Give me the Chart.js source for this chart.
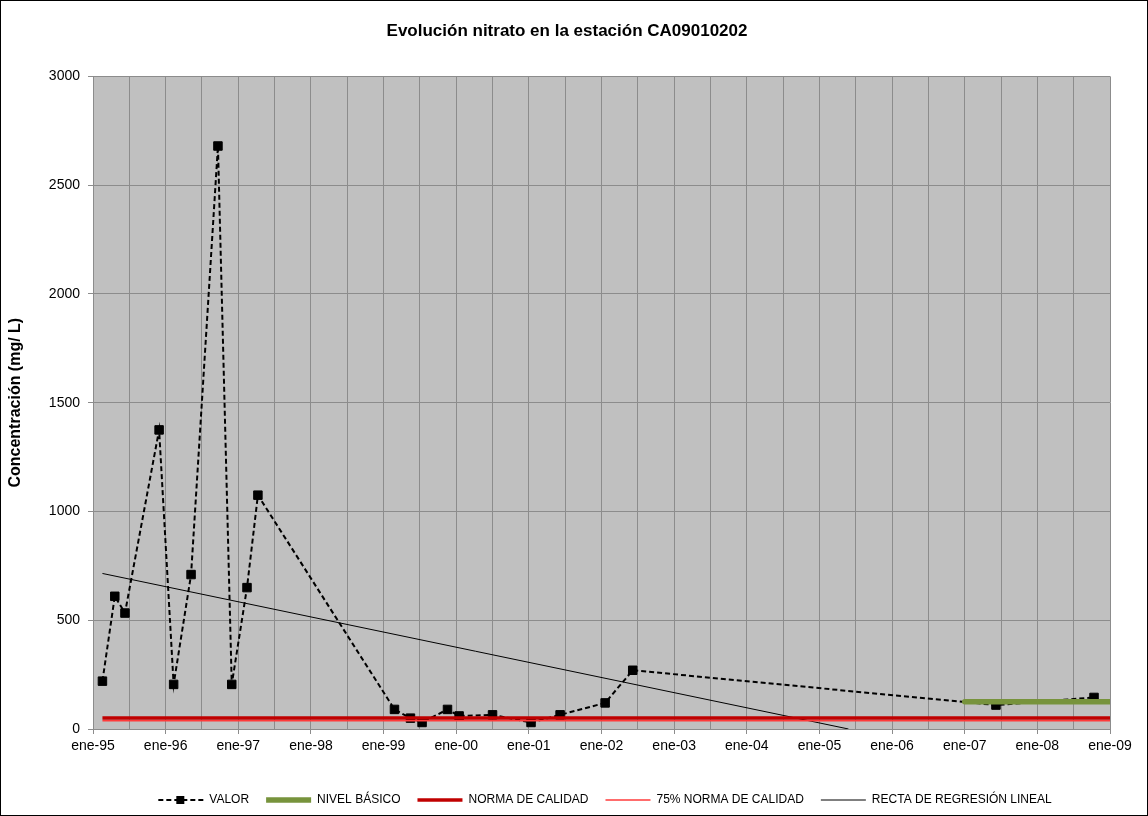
<!DOCTYPE html>
<html>
<head>
<meta charset="utf-8">
<script src="https://cdn.jsdelivr.net/npm/chart.js@4.4.1/dist/chart.umd.min.js"></script>
<style>
  html, body { margin: 0; padding: 0; background: #fff; }
  #wrap { width: 1148px; height: 816px; position: relative; }
</style>
</head>
<body>
<div id="wrap"><canvas id="nitratoChart"></canvas></div>
<script>
// fechas de muestreo en años decimales (ene-95 = 1995.0)
const fechas = [1995.13, 1995.30, 1995.44, 1995.91, 1996.11, 1996.35, 1996.72, 1996.91, 1997.12, 1997.27,
  1999.15, 1999.37, 1999.53, 1999.88, 2000.04, 2000.50, 2001.03, 2001.43, 2002.05, 2002.43,
  2007.43, 2008.78];
const valor = [220, 610, 533, 1375, 205, 710, 2680, 205, 650, 1075,
  90, 50, 30, 90, 60, 65, 30, 65, 120, 270,
  110, 145];

const nivelBasicoX = [2007.0, 2009.0];
const nivelBasico = [125, 125];
const normaX = [1995.13, 2009.0];
const norma = [50, 50];
const norma75 = [37.5, 37.5];
const regresionX = [1995.13, 2005.4];
const regresion = [715, 0];

const yTicks = [0, 500, 1000, 1500, 2000, 2500, 3000];

const pts = (xs, ys) => xs.map((x, i) => ({ x: x, y: ys[i] }));

const sans = "'Liberation Sans', Arial, sans-serif";

Chart.defaults.color = "#000";
Chart.defaults.font.family = sans;

const fondo = {
  id: "fondo",
  afterLayout(chart) {
    // Excel centra leyenda y título algo más a la derecha
    chart.legend.left += 50;
    chart.legend.right += 50;
    chart.titleBlock.left += 12;
    chart.titleBlock.right += 12;
  },
  beforeDraw(chart) {
    const { ctx, chartArea: a } = chart;
    ctx.save();
    ctx.fillStyle = "#fff";
    ctx.fillRect(0, 0, chart.width, chart.height);
    ctx.fillStyle = "#c0c0c0";
    ctx.fillRect(a.left, a.top, a.right - a.left, a.bottom - a.top);
    ctx.restore();
  },
  afterDraw(chart) {
    const ctx = chart.ctx;
    ctx.save();
    ctx.strokeStyle = "#000";
    ctx.lineWidth = 1;
    ctx.strokeRect(0.5, 0.5, chart.width - 1, chart.height - 1);
    // marcador cuadrado del VALOR en la leyenda
    const hb = chart.legend.legendHitBoxes[0];
    if (hb) {
      const cx = hb.left + 22;
      const cy = hb.top + hb.height / 2;
      ctx.fillStyle = "#000";
      ctx.fillRect(cx - 4, cy - 4, 8, 8);
    }
    ctx.restore();
  }
};

const ctx = document.getElementById("nitratoChart").getContext("2d");
const chart = new Chart(ctx, {
  type: "line",
  data: {
    datasets: [
      {
        label: "VALOR",
        data: pts(fechas, valor),
        borderColor: "#000",
        backgroundColor: "#000",
        borderWidth: 2,
        borderDash: [5, 3],
        pointStyle: "rect",
        pointRadius: 6,
        pointBorderWidth: 1,
        order: 1,
      },
      {
        label: "NIVEL BÁSICO",
        data: pts(nivelBasicoX, nivelBasico),
        borderColor: "#77933c",
        backgroundColor: "#77933c",
        borderWidth: 5.5,
        borderCapStyle: "round",
        pointRadius: 0,
        order: -1,
      },
      {
        label: "NORMA DE CALIDAD",
        data: pts(normaX, norma),
        borderColor: "#c00000",
        backgroundColor: "#c00000",
        borderWidth: 3.5,
        pointRadius: 0,
        order: 0,
      },
      {
        label: "75% NORMA DE CALIDAD",
        data: pts(normaX, norma75),
        borderColor: "#ff3b3b",
        backgroundColor: "#ff3b3b",
        borderWidth: 1.5,
        pointRadius: 0,
        order: 0,
      },
      {
        label: "RECTA DE REGRESIÓN LINEAL",
        data: pts(regresionX, regresion),
        borderColor: "#000",
        backgroundColor: "#000",
        borderWidth: 1,
        pointRadius: 0,
        order: 0,
      },
    ],
  },
  options: {
    responsive: true,
    maintainAspectRatio: false,
    animation: false,
    layout: { padding: { left: 0, right: 38, top: 0, bottom: 0 } },
    elements: { line: { tension: 0 } },
    scales: {
      x: {
        type: "linear",
        min: 1995,
        max: 2009,
        afterFit: (s) => { s.height = 48; },
        ticks: {
          stepSize: 0.5,
          autoSkip: false,
          maxRotation: 0,
          padding: 4,
          font: { size: 14 },
          callback: (v) => (Number.isInteger(v) ? "ene-" + String(v).slice(2) : ""),
        },
        grid: {
          color: "#8c8c8c",
          tickLength: 5,
          tickColor: (c) => (c.tick && Number.isInteger(c.tick.value) ? "#8c8c8c" : "rgba(0,0,0,0)"),
        },
        border: { color: "#8c8c8c" },
      },
      y: {
        min: 0,
        max: 3000,
        afterFit: (s) => { s.width = 93; },
        afterBuildTicks: (s) => { s.ticks = yTicks.map((v) => ({ value: v })); },
        ticks: { padding: 8, font: { size: 14 }, callback: (v) => String(v) },
        grid: { color: "#8c8c8c", tickLength: 5, tickColor: "#8c8c8c" },
        border: { color: "#8c8c8c" },
        title: {
          display: true,
          text: "Concentración (mg/ L)",
          font: { size: 16, weight: "bold" },
          padding: { top: 6, bottom: 0 },
        },
      },
    },
    plugins: {
      title: {
        display: true,
        text: "Evolución nitrato en la estación CA09010202",
        font: { size: 17, weight: "bold" },
        padding: { top: 21, bottom: 35 },
      },
      legend: {
        position: "bottom",
        labels: {
          usePointStyle: true,
          pointStyle: "line",
          pointStyleWidth: 45,
          padding: 17,
          font: { size: 12 },
          sort: (a, b) => a.datasetIndex - b.datasetIndex,
          generateLabels: (chart) => {
            const items = Chart.defaults.plugins.legend.labels.generateLabels(chart);
            items.forEach((it) => {
              const ds = chart.data.datasets[it.datasetIndex];
              it.lineDash = ds.borderDash || [];
              it.lineWidth = ds.borderWidth;
              it.strokeStyle = ds.borderColor;
              it.lineCap = "butt";
            });
            return items;
          },
        },
      },
      tooltip: { enabled: false },
    },
  },
  plugins: [fondo],
});
</script>
</body>
</html>
